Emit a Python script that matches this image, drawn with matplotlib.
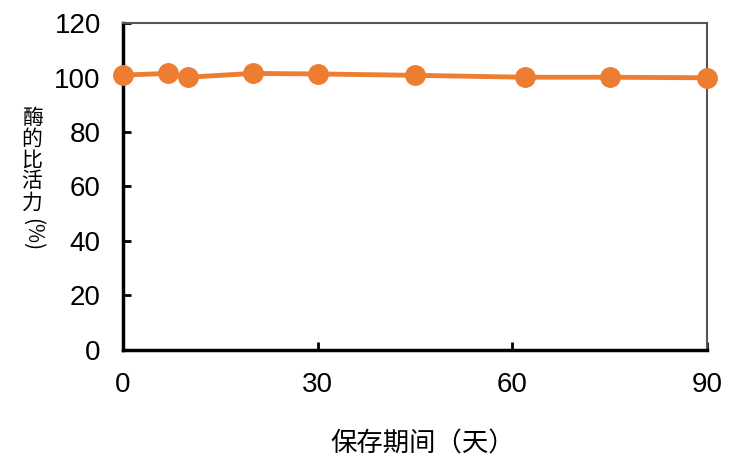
import matplotlib
matplotlib.use("Agg")
import matplotlib.pyplot as plt

# 数据
days = [0, 7, 10, 20, 30, 45, 62, 75, 90]
activity = [100.9, 101.5, 100.1, 101.5, 101.3, 100.8, 100.1, 100.1, 99.9]
x_ticks = [0, 30, 60, 90]
y_ticks = [0, 20, 40, 60, 80, 100, 120]
x_label = "保存期间（天）"
y_label_chars = "酶的比活力"
y_label_unit = "(%)"

ORANGE = "#ED7D31"
CJK = ["Noto Sans CJK SC", "DejaVu Sans"]

fig = plt.figure(figsize=(7.38, 4.66), dpi=100)
ax = fig.add_axes([0.1667, 0.249, 0.7913, 0.7016])

ax.plot(days, activity, color=ORANGE, lw=3.5, marker="o", ms=14,
        clip_on=False, zorder=3)

ax.set_xlim(0, 90)
ax.set_ylim(0, 120)
ax.set_xticks(x_ticks)
ax.set_yticks(y_ticks)
ax.tick_params(direction="in", length=6, width=2, pad=16,
               labelsize=20)
for lab in ax.get_xticklabels() + ax.get_yticklabels():
    lab.set_fontfamily("Liberation Sans")

for side in ("left", "bottom"):
    ax.spines[side].set_linewidth(2.5)
    ax.spines[side].set_color("black")
for side in ("top", "right"):
    ax.spines[side].set_linewidth(1.5)
    ax.spines[side].set_color("#555555")

# 坐标轴标题
fig.text(423 / 738, 1 - 444 / 466, x_label, family=CJK, fontsize=19,
         ha="center", va="center")
fig.text(32 / 738, 1 - 160 / 466, "\n".join(y_label_chars), family=CJK,
         fontsize=15, ha="center", va="center", linespacing=0.95)
fig.text(32 / 738, 1 - 235 / 466, y_label_unit, family=CJK, fontsize=15,
         ha="center", va="center", rotation=-90)

fig.savefig("out.png", dpi=100)
